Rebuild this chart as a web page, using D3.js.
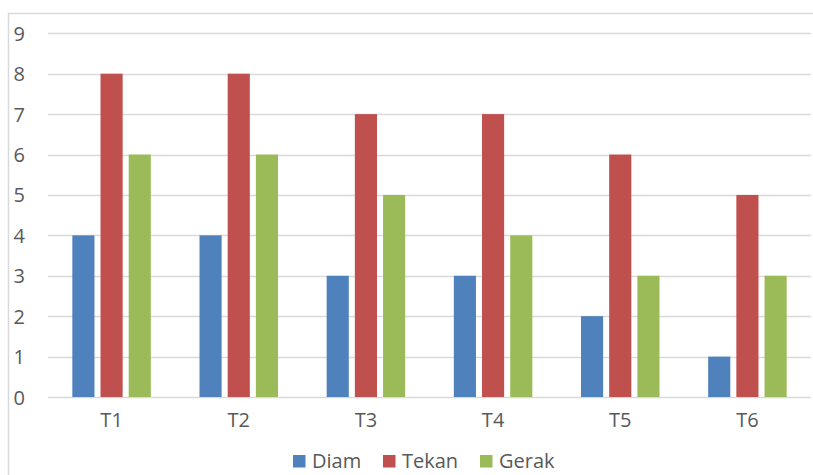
<!DOCTYPE html>
<html><head><meta charset="utf-8">
<script src="https://cdn.jsdelivr.net/npm/d3@7"></script>
<style>body{margin:0;background:#fff}svg{display:block}</style>
</head><body>
<script>
const categories = ["T1","T2","T3","T4","T5","T6"];
const seriesNames = ["Diam","Tekan","Gerak"];
const diam = [4,4,3,3,2,1];
const tekan = [8,8,7,7,6,5];
const gerak = [6,6,5,4,3,3];
const yTicks = [0,1,2,3,4,5,6,7,8,9];
const colors = ["#4F81BD","#C0504D","#9BBB59"];

const W = 813, H = 475;
const svg = d3.select("body").append("svg").attr("width", W).attr("height", H);
const font = "'Open Sans', sans-serif";
const textColor = "#595959";
const fs = 20;

// frame
svg.append("rect").attr("x", 8.5).attr("y", 13.5).attr("width", 820).attr("height", 480)
  .attr("fill", "none").attr("stroke", "#d9d9d9").attr("stroke-width", 1.5);

const x0 = d3.scaleBand().domain(categories).range([48, 811]).paddingInner(0).paddingOuter(0);
const y = d3.scaleLinear().domain([0, 9]).range([397, 33.3]);

// gridlines
svg.append("g").selectAll("line").data(yTicks).join("line")
  .attr("x1", 48).attr("x2", 811)
  .attr("y1", d => Math.round(y(d)) + 0.5).attr("y2", d => Math.round(y(d)) + 0.5)
  .attr("stroke", "#d9d9d9").attr("stroke-width", 1.5);

// y axis
const yAxis = d3.axisLeft(y).tickValues(yTicks).tickSize(0).tickPadding(0);
const gy = svg.append("g").attr("transform", "translate(25,0)").call(yAxis);
gy.select(".domain").remove();
gy.selectAll("text").attr("font-family", font).attr("font-size", fs).attr("fill", textColor).attr("dy", "0.35em");

// x axis
const xAxis = d3.axisBottom(x0).tickSize(0).tickPadding(0);
const gx = svg.append("g").attr("transform", "translate(0,413)").call(xAxis);
gx.select(".domain").remove();
gx.selectAll("text").attr("font-family", font).attr("font-size", fs).attr("fill", textColor).attr("dy", "0.7em");

// bars
const data = categories.map((c, i) => ({cat: c, vals: [diam[i], tekan[i], gerak[i]]}));
const groupW = 78.5;
const x1 = d3.scaleBand().domain(seriesNames).range([0, groupW]).paddingInner(0.215).paddingOuter(0);
const g = svg.append("g");
data.forEach(d => {
  const off = x0(d.cat) + (x0.bandwidth() - groupW) / 2;
  g.append("g").attr("transform", `translate(${off},0)`)
    .selectAll("rect").data(d.vals).join("rect")
    .attr("x", (v, j) => x1(seriesNames[j]))
    .attr("width", x1.bandwidth())
    .attr("y", v => y(v))
    .attr("height", v => y(0) - y(v))
    .attr("fill", (v, j) => colors[j]);
});

// legend
const legendItems = [{x: 293}, {x: 383}, {x: 480}];
const lg = svg.append("g");
seriesNames.forEach((s, i) => {
  lg.append("rect").attr("x", legendItems[i].x).attr("y", 455).attr("width", 12.5).attr("height", 12.5).attr("fill", colors[i]);
  lg.append("text").attr("x", legendItems[i].x + 19).attr("y", 468)
    .attr("font-family", font).attr("font-size", fs).attr("fill", textColor).text(s);
});
</script>
</body></html>
